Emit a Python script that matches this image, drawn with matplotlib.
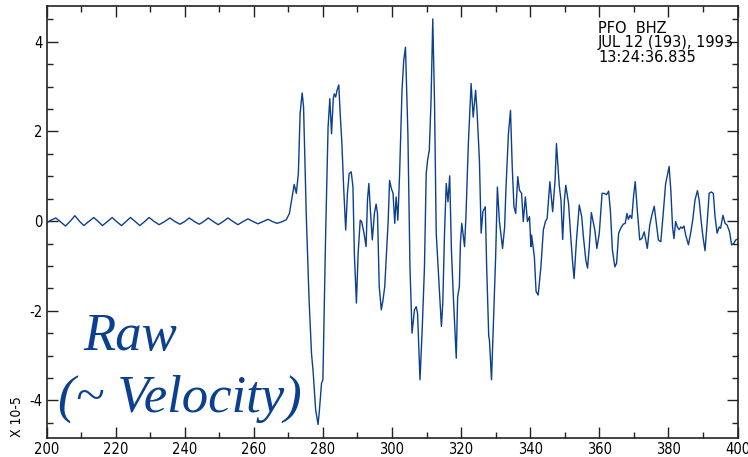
import matplotlib
matplotlib.use("Agg")
import matplotlib.pyplot as plt
from matplotlib.ticker import MultipleLocator

# PFO BHZ raw trace (seconds, amplitude x 1e-5)
time_s = [
    200.0, 201.3, 202.7, 204.1, 205.5, 206.9, 208.2, 209.5, 210.8, 212.2,
    213.7, 215.0, 216.2, 217.6, 219.0, 220.3, 221.7, 223.0, 224.3, 225.7,
    227.0, 228.4, 229.7, 231.2, 232.6, 234.2, 235.7, 237.2, 238.6, 240.0,
    241.3, 242.8, 244.2, 245.5, 246.8, 248.3, 249.7, 251.1, 252.5, 254.0,
    255.4, 256.9, 258.3, 259.8, 261.2, 262.7, 264.1, 265.4, 266.7, 268.0,
    269.4, 270.3, 271.7, 272.3, 272.9, 273.4, 274.0, 274.4, 275.2, 276.0,
    276.7, 277.2, 277.9, 278.6, 279.0, 279.6, 280.0, 280.8, 281.5, 282.0,
    282.5, 283.0, 283.3, 283.7, 284.1, 284.6, 285.0, 285.5, 286.0, 286.6,
    287.1, 287.6, 288.2, 288.7, 289.1, 289.7, 290.2, 290.8, 291.2, 291.9,
    292.5, 292.9, 293.3, 293.8, 294.3, 294.9, 295.4, 295.8, 296.3, 296.9,
    297.4, 297.9, 298.4, 298.9, 299.3, 299.8, 300.3, 300.8, 301.2, 301.7,
    302.2, 302.9, 303.4, 303.9, 304.6, 305.2, 305.8, 306.5, 307.0, 307.4,
    308.1, 308.7, 309.4, 309.9, 310.3, 310.8, 311.3, 311.8, 312.3, 312.8,
    313.5, 314.3, 314.7, 315.2, 315.7, 316.2, 316.7, 317.2, 317.8, 318.6,
    319.0, 319.5, 319.8, 320.2, 321.0, 321.4, 322.1, 322.9, 323.5, 324.2,
    324.6, 325.3, 325.8, 326.3, 327.0, 327.4, 328.0, 328.2, 328.8, 329.4,
    330.0, 330.5, 331.1, 332.0, 332.6, 333.0, 333.7, 334.3, 334.8, 335.3,
    335.8, 336.4, 336.9, 337.5, 338.0, 338.6, 339.2, 339.8, 340.2, 340.4,
    341.2, 341.7, 342.3, 343.1, 343.8, 344.4, 344.9, 345.7, 346.5, 347.2,
    347.6, 348.4, 348.9, 349.4, 349.9, 350.3, 351.1, 351.8, 352.3, 352.7,
    353.4, 354.2, 354.9, 355.4, 356.1, 356.6, 357.1, 357.7, 358.3, 358.7,
    359.3, 360.0, 360.8, 361.4, 362.1, 362.7, 363.2, 363.8, 364.5, 365.0,
    365.6, 366.2, 366.9, 367.5, 368.0, 368.4, 368.9, 369.4, 369.9, 370.4,
    371.0, 371.7, 372.3, 373.0, 373.9, 374.6, 375.2, 375.9, 376.5, 377.1,
    377.8, 378.5, 379.2, 379.7, 380.2, 380.7, 381.2, 381.6, 382.1, 382.6,
    383.1, 383.6, 384.0, 384.5, 385.0, 385.8, 386.5, 387.1, 387.7, 388.4,
    388.9, 389.4, 390.0, 390.6, 391.2, 391.8, 392.4, 393.0, 393.5, 394.1,
    394.7, 395.1, 395.8, 396.4, 397.0, 397.7, 398.3, 398.9, 399.5, 400.0,
]
velocity = [
    -0.04, 0.02, 0.07, -0.02, -0.11, 0.00, 0.12, 0.00, -0.10, -0.01,
    0.08, -0.01, -0.10, -0.01, 0.08, -0.01, -0.10, -0.01, 0.08, -0.01,
    -0.10, -0.01, 0.08, -0.01, -0.08, -0.01, 0.07, -0.01, -0.07, -0.01,
    0.07, -0.01, -0.07, -0.01, 0.07, -0.01, -0.08, -0.01, 0.07, -0.01,
    -0.08, -0.01, 0.05, -0.01, -0.06, -0.01, 0.04, -0.01, -0.05, -0.02,
    0.03, 0.17, 0.82, 0.62, 1.06, 2.40, 2.86, 2.55, 0.10, -1.76,
    -2.95, -3.39, -4.21, -4.54, -4.21, -3.62, -3.54, -0.27, 2.10, 2.73,
    1.95, 2.73, 2.84, 2.77, 2.92, 3.04, 2.40, 1.73, 0.76, -0.20,
    0.62, 1.06, 1.10, 0.76, -0.72, -1.83, -0.72, 0.02, -0.01, -0.27,
    -0.57, 0.47, 0.84, 0.17, -0.42, 0.17, 0.38, 0.17, -1.46, -1.98,
    -1.76, -1.46, -0.72, 0.02, 0.91, 0.73, 0.62, -0.05, 0.54, 0.02,
    1.06, 2.92, 3.59, 3.88, 1.95, -1.02, -2.50, -1.98, -1.91, -2.06,
    -3.54, -2.50, -1.02, 1.06, 1.36, 1.58, 2.69, 4.51, 2.69, -0.27,
    -1.24, -2.35, -1.83, -0.27, 0.84, 0.43, 1.01, -0.65, -1.76, -3.06,
    -1.69, -1.46, -0.50, -0.05, -0.57, 0.10, 1.73, 3.07, 2.32, 2.92,
    2.47, 1.36, -0.27, 0.21, 0.32, -1.02, -2.58, -2.65, -3.54, -2.13,
    -0.79, 0.76, -0.01, -0.61, -0.13, 0.76, 1.95, 2.47, 1.21, 0.32,
    0.17, 0.99, 0.69, 0.62, -0.01, 0.54, -0.01, 0.10, -0.57, -0.31,
    -0.79, -1.57, -1.65, -1.02, -0.20, -0.01, 0.06, 0.88, 0.21, 0.91,
    1.73, 0.80, 0.47, -0.41, 0.47, 0.80, 0.39, -0.42, -0.94, -1.28,
    -0.42, 0.36, 0.10, -0.35, -0.87, -1.05, -0.57, 0.19, -0.05, -0.20,
    -0.61, -0.27, 0.62, 0.62, 0.59, 0.67, 0.24, -0.65, -1.02, -0.94,
    -0.27, -0.16, -0.07, -0.05, 0.17, 0.04, 0.13, 0.06, 0.54, 0.88,
    0.24, -0.42, -0.39, -0.24, -0.61, -0.09, 0.13, 0.33, -0.05, -0.42,
    -0.46, 0.17, 0.84, 1.02, 1.22, 0.69, -0.13, -0.39, -0.01, -0.13,
    -0.19, -0.13, -0.16, -0.11, -0.31, -0.53, -0.24, 0.06, 0.47, 0.68,
    0.47, 0.06, -0.35, -0.66, -0.05, 0.62, 0.65, 0.62, 0.10, -0.27,
    -0.13, -0.16, 0.13, -0.05, -0.09, -0.24, -0.53, -0.50, -0.42, -0.40,
]

header_lines = ["PFO  BHZ", "JUL 12 (193), 1993", "13:24:36.835"]

line_color = "#0b3f8f"
plt.rcParams["axes.unicode_minus"] = False
plt.rcParams["font.family"] = "DejaVu Sans"
plt.rcParams["font.stretch"] = "condensed"

fig = plt.figure(figsize=(7.48, 4.57), dpi=100)
ax = fig.add_axes([46.5 / 748, 19 / 457, 691 / 748, 432 / 457])

ax.plot(time_s, velocity, color=line_color, lw=1.0)

ax.set_xlim(200, 400)
ax.set_ylim(-4.84, 4.8)
ax.xaxis.set_major_locator(MultipleLocator(20))
ax.xaxis.set_minor_locator(MultipleLocator(10))
ax.yaxis.set_major_locator(MultipleLocator(2))
ax.yaxis.set_minor_locator(MultipleLocator(0.5))
ax.tick_params(which="both", direction="in", top=True, right=True,
               color="#222222", width=1.0)
ax.tick_params(which="major", length=8, labelsize=10.5, pad=3)
ax.tick_params(which="minor", length=4)
for sp in ax.spines.values():
    sp.set_linewidth(1.2)
    sp.set_color("#222222")

# station header, top right
fig.text(598 / 748, 1 - 21 / 457, "\n".join(header_lines), ha="left", va="top",
         fontsize=10.5, linespacing=0.95, stretch="normal")

# exponent label
fig.text(17 / 748, 1 - 417 / 457, "X 10-5", rotation=90, ha="center",
         va="center", fontsize=10)

# big annotation
fig.text(130 / 748, 1 - 350 / 457, "Raw", ha="center", va="baseline",
         fontsize=38, style="italic", family="Liberation Serif",
         stretch="normal", color=line_color)
fig.text(180 / 748, 1 - 412 / 457, "(~ Velocity)", ha="center", va="baseline",
         fontsize=38, style="italic", family="Liberation Serif",
         stretch="normal", color=line_color)

fig.savefig("out.png", dpi=100)
